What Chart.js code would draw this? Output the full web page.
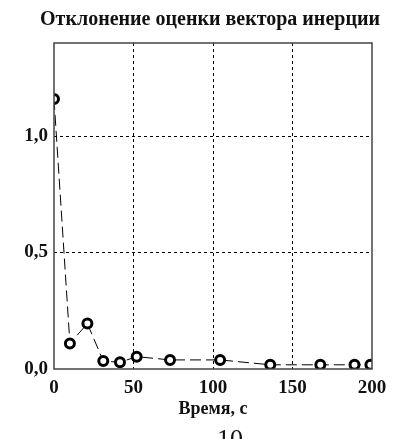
<!DOCTYPE html>
<html lang="ru">
<head>
<meta charset="UTF-8">
<title>Отклонение оценки вектора инерции</title>
<script src="https://cdn.jsdelivr.net/npm/chart.js"></script>
<style>
    html, body { margin: 0; padding: 0; background: #fff; }
    #wrap { width: 398px; height: 439px; position: relative; }
</style>
</head>
<body>
<div id="wrap"><canvas id="grafico"></canvas></div>
<script>
    // valores
    const tempo = [0, 10, 21, 31, 41.5, 52, 73, 104.5, 136, 167.5, 189, 199];
    const desvio = [1.16, 0.11, 0.195, 0.034, 0.029, 0.053, 0.039, 0.039, 0.018, 0.018, 0.018, 0.018];
    const ticksX = [0, 50, 100, 150, 200];
    const ticksY = [0, 0.5, 1.0];

    const fonte = '"Liberation Serif", "Times New Roman", serif';

    // titulo, moldura e numero da pagina
    const extras = {
        id: 'extras',
        afterDraw(chart) {
            const ctx = chart.ctx;
            const a = chart.chartArea;
            ctx.save();
            ctx.strokeStyle = '#444';
            ctx.lineWidth = 1.5;
            ctx.setLineDash([]);
            ctx.strokeRect(a.left, a.top, a.right - a.left, a.bottom - a.top);
            ctx.fillStyle = '#111';
            ctx.textAlign = 'center';
            ctx.textBaseline = 'middle';
            ctx.font = 'bold 20px ' + fonte;
            ctx.fillText('Отклонение оценки вектора инерции', 210, 20);
            ctx.font = '26px ' + fonte;
            ctx.textBaseline = 'top';
            ctx.fillText('10', 230, 427);
            ctx.restore();
        }
    };

    const dados = {
        datasets: [{
            data: tempo.map((t, i) => ({ x: t, y: desvio[i] })),
            borderColor: '#000',
            borderWidth: 1,
            borderDash: [11, 5],
            pointRadius: 4.5,
            pointBorderWidth: 3,
            pointBackgroundColor: '#fff',
            pointBorderColor: '#000',
            tension: 0
        }]
    };

    const config = {
        type: 'line',
        data: dados,
        plugins: [extras],
        options: {
            responsive: false,
            animation: false,
            layout: { padding: { top: 43, right: 26, left: 0, bottom: 19 } },
            plugins: { legend: { display: false }, tooltip: { enabled: false } },
            scales: {
                x: {
                    type: 'linear',
                    min: 0,
                    max: 200,
                    afterBuildTicks: s => { s.ticks = ticksX.map(v => ({ value: v })); },
                    afterFit: s => { s.height = 51; },
                    border: { display: false, dash: [3, 3] },
                    grid: {
                        drawTicks: false,
                        color: c => (c.tick.value === 0 || c.tick.value === 200) ? 'transparent' : '#000',
                        lineWidth: 1
                    },
                    ticks: {
                        color: '#111',
                        padding: 8,
                        font: { family: fonte, size: 19, weight: 'bold' }
                    },
                    title: {
                        display: true,
                        text: 'Время, с',
                        color: '#111',
                        padding: { top: 0, bottom: 0 },
                        font: { family: fonte, size: 18, weight: 'bold' }
                    }
                },
                y: {
                    min: 0,
                    max: 1.4,
                    afterBuildTicks: s => { s.ticks = ticksY.map(v => ({ value: v })); },
                    afterFit: s => { s.width = 54; },
                    border: { display: false, dash: [3, 3] },
                    grid: {
                        drawTicks: false,
                        color: c => c.tick.value === 0 ? 'transparent' : '#000',
                        lineWidth: 1
                    },
                    ticks: {
                        color: '#111',
                        padding: 6,
                        font: { family: fonte, size: 19, weight: 'bold' },
                        callback: v => v.toFixed(1).replace('.', ',')
                    }
                }
            }
        }
    };

    const canvas = document.getElementById('grafico');
    canvas.width = 398;
    canvas.height = 439;
    const grafico = new Chart(canvas, config);
</script>
</body>
</html>
